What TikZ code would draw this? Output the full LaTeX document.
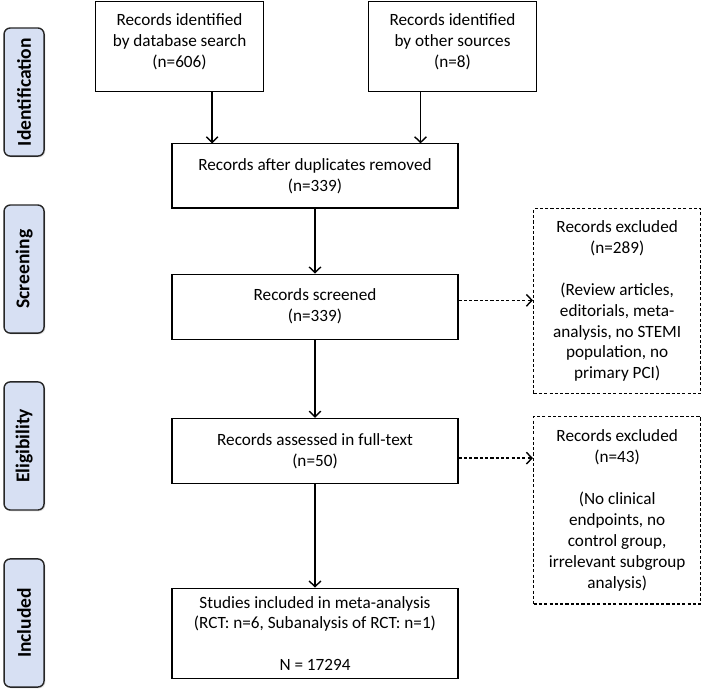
\documentclass[tikz,border=0pt]{standalone}
\usepackage{fontspec}
\setmainfont{Carlito}
\usetikzlibrary{positioning, arrows.meta, shadows}
\definecolor{phasefill}{HTML}{D7E0F3}
\tikzset{>={Straight Barb[length=3.6pt,width=7.5pt,line width=0.9pt]}, % open v-shaped heads
every node/.style={font=\fontsize{11}{13.4}\selectfont, align=center}, % Calibri-like text
box/.style={draw, line width=0.7pt, inner sep=2pt}, % plain record boxes
exbox/.style={draw, line width=0.75pt, dash pattern=on 2pt off 1.4pt, inner sep=2pt}, % dashed exclusion boxes
phase/.style={draw=black!85, line width=0.9pt, fill=phasefill, rounded corners=4pt, rotate=90,
  minimum width=82pt, minimum height=25.6pt, font=\fontsize{12.5}{14}\selectfont\bfseries,
  drop shadow={opacity=0.25, shadow xshift=0.8pt, shadow yshift=-0.8pt}}, % side labels
flow/.style={->, line width=0.85pt}, % solid arrows
skip/.style={->, line width=0.9pt, dash pattern=on 2pt off 1.4pt}, % dashed arrows
}
\begin{document}
\begin{tikzpicture}[x=1pt, y=1pt]
  \useasboundingbox (0,0) rectangle (453.76,-445.44);

  % phases
  \node[phase] (pid) at (15.4,-58.9) {Identification};
  \node[phase] (psc) at (15.4,-172.2) {Screening};
  \node[phase] (pel) at (15.4,-285.4) {Eligibility};
  \node[phase] (pin) at (15.4,-398.7) {Included};

  % main flow
  \node[box, minimum width=108pt, minimum height=58pt] (db) at (114.9,-29.8)
    {Records identified\\by database search\\(n=606)\\[-6pt]};
  \node[box, minimum width=108pt, minimum height=58pt] (oth) at (289.6,-29.8)
    {Records identified\\by other sources\\(n=8)\\[-6pt]};
  \node[box, minimum width=183pt, minimum height=41pt] (dup) at (201.6,-112.6)
    {Records after duplicates removed\\(n=339)};
  \node[box, minimum width=183pt, minimum height=41.6pt, below=41.6pt of dup] (scr)
    {Records screened\\(n=339)};
  \node[box, minimum width=183pt, minimum height=42pt, below=50pt of scr] (ass)
    {Records assessed in full-text\\(n=50)};
  \node[box, minimum width=183pt, minimum height=58pt, below=66pt of ass] (inc)
    {Studies included in meta-analysis\\(RCT: n=6, Subanalysis of RCT: n=1)\\[\baselineskip]N = 17294};

  % exclusions
  \node[exbox, minimum width=107pt, minimum height=118.4pt, anchor=north west] (exa) at (341.1,-133.1)
    {Records excluded\\(n=289)\\[\baselineskip](Review articles,\\editorials, meta-\\analysis, no STEMI\\population, no\\primary PCI)};
  \node[exbox, minimum width=107pt, minimum height=120pt, anchor=north west] (exb) at (341.1,-266.2)
    {Records excluded\\(n=43)\\[\baselineskip](No clinical\\endpoints, no\\control group,\\irrelevant subgroup\\analysis)};

  \coordinate (a1) at ([xshift=26pt]dup.north west);
  \coordinate (a2) at ([xshift=-24.3pt]dup.north east);
  \coordinate (s1) at ([yshift=4pt]scr.east);
  \coordinate (s2) at ([yshift=-4.5pt]ass.east);

  \draw[flow] (db.south -| a1) -- (a1);
  \draw[flow] (oth.south -| a2) -- (a2);
  \draw[flow] (dup) -- (scr);
  \draw[flow] (scr) -- (ass);
  \draw[flow] (ass) -- (inc);
  \draw[skip] (s1) -- (s1 -| exa.west);
  \draw[skip] (s2) -- (s2 -| exb.west);
\end{tikzpicture}
\end{document}
